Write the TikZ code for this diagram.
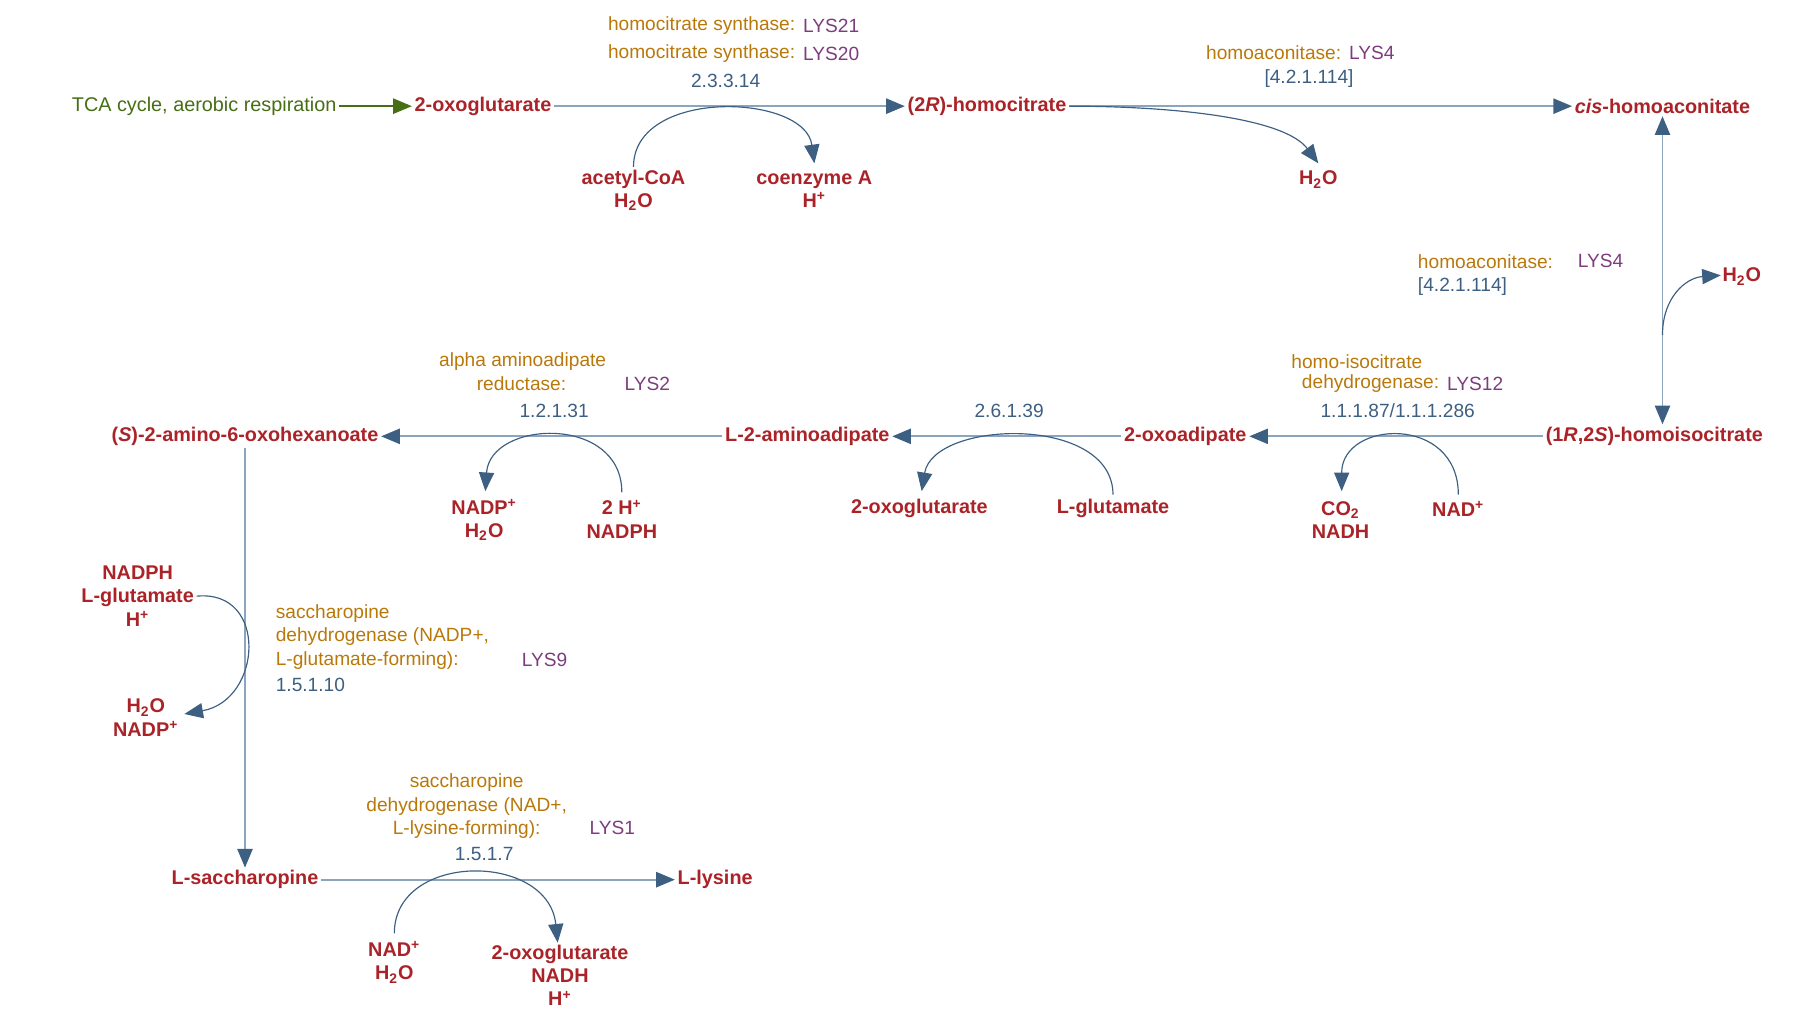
\documentclass[tikz,border=0pt]{standalone}
\usepackage{fontspec}
\setmainfont{Liberation Sans}
\usetikzlibrary{arrows.meta}
\definecolor{cpd}{RGB}{170,35,40}
\definecolor{enz}{RGB}{185,120,10}
\definecolor{gene}{RGB}{125,60,125}
\definecolor{ec}{RGB}{60,95,130}
\definecolor{ln}{RGB}{140,165,190}
\definecolor{tip}{RGB}{60,95,130}
\definecolor{grn}{RGB}{70,110,20}
\begin{document}
\begin{tikzpicture}[x=0.5pt,y=-0.5pt,
  c/.style={font=\fontsize{8.5}{10}\selectfont\bfseries,text=cpd,inner sep=1pt,align=center},
  l/.style={font=\fontsize{8.2}{10}\selectfont,text=enz,inner sep=0pt,align=center},
  g/.style={font=\fontsize{8.2}{10}\selectfont,text=gene,inner sep=0pt},
  e/.style={font=\fontsize{8.2}{10}\selectfont,text=ec,inner sep=0pt},
  main/.style={draw=ln,line width=0.8pt,arrows={-Triangle[length=8pt,width=6.5pt,fill=tip,color=tip]}},
  dbl/.style={draw=ln,line width=0.8pt,arrows={Triangle[length=8pt,width=6.5pt,fill=tip,color=tip]-Triangle[length=8pt,width=6.5pt,fill=tip,color=tip]}},
  gr/.style={draw=grn,line width=0.8pt,arrows={-Triangle[length=8pt,width=6.5pt,fill=grn,color=grn]}},
  side/.style={draw=tip,line width=0.5pt,arrows={-Triangle[length=8pt,width=6.5pt,fill=tip,color=tip]}}]
\useasboundingbox (0,0) rectangle (1560,872);
% compounds
\node[font=\fontsize{8.5}{10}\selectfont,text=grn,inner sep=1pt] (tca) at (175,91) {TCA cycle, aerobic respiration};
\node[c] (og) at (414,91) {2-oxoglutarate};
\node[c] (hc) at (846,91) {(2\textit{R})-homocitrate};
\node[c] (cha) at (1425,91) {\textit{cis}-homoaconitate};
\node[c] (hic) at (1418,374) {(1\textit{R},2\textit{S})-homoisocitrate};
\node[c] (oa) at (1016,374) {2-oxoadipate};
\node[c] (laa) at (692,374) {L-2-aminoadipate};
\node[c] (sao) at (210,374) {(\textit{S})-2-amino-6-oxohexanoate};
\node[c] (ls) at (210,754) {L-saccharopine};
\node[c] (lys) at (613,754) {L-lysine};
% side compounds
\node[c] (acoa) at (543,163) {acetyl-CoA\\H\textsubscript{2}O};
\node[c] (coa) at (698,162) {coenzyme A\\H\textsuperscript{+}};
\node[c] (w1) at (1130,154) {H\textsubscript{2}O};
\node[c] (w2) at (1493,237) {H\textsubscript{2}O};
\node[c] (co2) at (1149,446) {CO\textsubscript{2}\\NADH};
\node[c] (nad1) at (1250,436) {NAD\textsuperscript{+}};
\node[c] (og2) at (788,436) {2-oxoglutarate};
\node[c] (glu) at (954,436) {L-glutamate};
\node[c] (nadp1) at (415,446) {NADP\textsuperscript{+}\\H\textsubscript{2}O};
\node[c] (nadph1) at (533,445) {2 H\textsuperscript{+}\\NADPH};
\node[c] (in9) at (118,511) {NADPH\\L-glutamate\\H\textsuperscript{+}};
\node[c] (out9) at (125,615) {H\textsubscript{2}O\\NADP\textsuperscript{+}};
\node[c] (nad2) at (338,825) {NAD\textsuperscript{+}\\H\textsubscript{2}O};
\node[c] (out1) at (480,836) {2-oxoglutarate\\NADH\\H\textsuperscript{+}};
% labels
\node[l,anchor=east] (l1a) at (682,22) {homocitrate synthase:};
\node[g,anchor=west] (g1a) at (688,22) {LYS21};
\node[l,anchor=east] (l1b) at (682,46) {homocitrate synthase:};
\node[g,anchor=west] (g1b) at (688,46) {LYS20};
\node[e] (e1) at (622,69) {2.3.3.14};
\node[l,anchor=east] (l2) at (1150,45) {homoaconitase:};
\node[g,anchor=west] (g2) at (1156,45) {LYS4};
\node[e] (e2) at (1122,67) {[4.2.1.114]};
\node[l,anchor=west] (l3) at (1215,224) {homoaconitase:};
\node[g,anchor=west] (g3) at (1352,224) {LYS4};
\node[e,anchor=west] (e3) at (1215,246) {[4.2.1.114]};
\node[l] (l4a) at (1163,310) {homo-isocitrate};
\node[l,anchor=east] (l4b) at (1234,329) {dehydrogenase:};
\node[g,anchor=west] (g4) at (1240,329) {LYS12};
\node[e] (e4) at (1198,352) {1.1.1.87/1.1.1.286};
\node[e] (e5) at (865,352) {2.6.1.39};
\node[l] (l6a) at (448,310) {alpha aminoadipate};
\node[l] (l6b) at (447,329) {reductase:};
\node[g,anchor=west] (g6) at (535,329) {LYS2};
\node[e] (e6) at (475,352) {1.2.1.31};
\node[l,anchor=west,align=left] (l7) at (236,546) {saccharopine\\dehydrogenase (NADP+,\\L-glutamate-forming):};
\node[g,anchor=west] (g7) at (447,566) {LYS9};
\node[e,anchor=west] (e7) at (236,587) {1.5.1.10};
\node[l] (l8) at (400,691) {saccharopine\\dehydrogenase (NAD+,\\L-lysine-forming):};
\node[g,anchor=west] (g8) at (505,710) {LYS1};
\node[e] (e8) at (415,732) {1.5.1.7};
% coordinates
\coordinate (b1) at (698,140);
\coordinate (b2) at (1130,140);
\coordinate (b3) at (1425,287);
\coordinate (b4) at (1475,236);
\coordinate (b5) at (1250,424);
\coordinate (b6) at (1150,421);
\coordinate (b7) at (954,424);
\coordinate (b8) at (790,421);
\coordinate (b9) at (533,422);
\coordinate (b10) at (416,421);
\coordinate (b11) at (158,612);
\coordinate (b12) at (338,800);
\coordinate (b13) at (478,808);
% main arrows
\draw[gr] (tca) -- (og);
\draw[main] (og) -- (hc);
\draw[main] (hc) -- (cha);
\draw[dbl] (cha) -- (hic.north -| cha);
\draw[main] (hic) -- (oa);
\draw[main] (oa) -- (laa);
\draw[main] (laa) -- (sao);
\draw[main] (sao) -- (ls);
\draw[main] (ls) -- (lys);
% side curves
\draw[side] (acoa.north) .. controls (543,75) and (690,80) .. (b1);
\draw[side] (hc.east) .. controls (1000,91) and (1100,100) .. (b2);
\draw[side] (b3) .. controls (1425,255) and (1445,238) .. (b4);
\draw[side] (b5) .. controls (1250,355) and (1150,360) .. (b6);
\draw[side] (b7) .. controls (954,355) and (800,360) .. (b8);
\draw[side] (b9) .. controls (533,355) and (420,360) .. (b10);
\draw[side] (in9.east) .. controls (230,505) and (225,600) .. (b11);
\draw[side] (b12) .. controls (338,730) and (470,730) .. (b13);
\end{tikzpicture}
\end{document}
